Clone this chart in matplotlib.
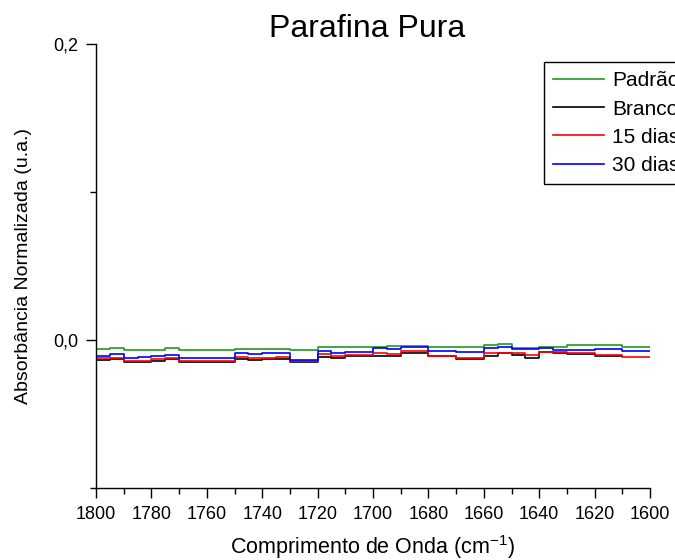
import numpy as np
import matplotlib
matplotlib.use("Agg")
import matplotlib.pyplot as plt
from matplotlib.ticker import MultipleLocator, FuncFormatter

plt.rcParams['font.family'] = ['Liberation Sans', 'DejaVu Sans']
plt.rcParams['mathtext.fontset'] = 'custom'
plt.rcParams['mathtext.rm'] = 'Liberation Sans'
plt.rcParams['mathtext.it'] = 'Liberation Sans:italic'
plt.rcParams['mathtext.default'] = 'regular'

# Wavenumber at the start of each 5 cm-1 step (cm-1)
wavenumber = np.arange(1800, 1600, -5)

padrao = [-0.0063, -0.0056, -0.0066, -0.0066, -0.0066, -0.0056, -0.0066, -0.0066,
          -0.0066, -0.0066, -0.0061, -0.0061, -0.0061, -0.0061, -0.0068, -0.0068,
          -0.0049, -0.0049, -0.0045, -0.0045, -0.0045, -0.0041, -0.0041, -0.0041,
          -0.0045, -0.0045, -0.0045, -0.0045, -0.0034, -0.0029, -0.0052, -0.0052,
          -0.0045, -0.0049, -0.0034, -0.0034, -0.0034, -0.0034, -0.0049, -0.0049]
branco = [-0.0133, -0.0128, -0.0151, -0.0151, -0.0142, -0.0128, -0.0151, -0.0151,
          -0.0151, -0.0151, -0.0128, -0.0133, -0.0128, -0.0126, -0.0151, -0.0151,
          -0.0113, -0.0124, -0.0106, -0.0106, -0.0106, -0.0106, -0.0090, -0.0090,
          -0.0110, -0.0110, -0.0128, -0.0128, -0.0106, -0.0090, -0.0101, -0.0120,
          -0.0083, -0.0090, -0.0097, -0.0097, -0.0106, -0.0106, np.nan, np.nan]
dias15 = [-0.0124, -0.0120, -0.0142, -0.0142, -0.0130, -0.0120, -0.0142, -0.0142,
          -0.0142, -0.0142, -0.0113, -0.0124, -0.0120, -0.0118, -0.0142, -0.0142,
          -0.0097, -0.0106, -0.0101, -0.0101, -0.0090, -0.0097, -0.0074, -0.0074,
          -0.0106, -0.0106, -0.0120, -0.0120, -0.0090, -0.0090, -0.0090, -0.0101,
          -0.0079, -0.0079, -0.0090, -0.0090, -0.0101, -0.0101, -0.0113, -0.0113]
dias30 = [-0.0106, -0.0097, -0.0120, -0.0113, -0.0108, -0.0101, -0.0120, -0.0120,
          -0.0120, -0.0120, -0.0090, -0.0095, -0.0090, -0.0088, -0.0135, -0.0135,
          -0.0074, -0.0090, -0.0079, -0.0079, -0.0056, -0.0061, -0.0049, -0.0049,
          -0.0074, -0.0074, -0.0079, -0.0079, -0.0056, -0.0045, -0.0061, -0.0061,
          -0.0052, -0.0068, -0.0068, -0.0068, -0.0061, -0.0061, -0.0074, -0.0074]

series = [
    ("Padrão", padrao, "#1f9a1f", 1600),
    ("Branco", branco, "#000000", 1610),
    ("15 dias", dias15, "#ff0000", 1600),
    ("30 dias", dias30, "#0000ff", 1600),
]

fig = plt.figure(figsize=(6.75, 5.6), dpi=100)
ax = fig.add_axes([96 / 675, 1 - 488 / 560, (650 - 96) / 675, (488 - 44) / 560])

for label, vals, color, end in series:
    vals = np.asarray(vals, dtype=float)
    ok = ~np.isnan(vals)
    x = np.append(wavenumber[ok], end)
    y = np.append(vals[ok], vals[ok][-1])
    ax.step(x, y, where='post', color=color, lw=1.2, label=label)

ax.set_xlim(1800, 1600)
ax.set_ylim(-0.1, 0.2)

for side in ("top", "right"):
    ax.spines[side].set_visible(False)
for side in ("left", "bottom"):
    ax.spines[side].set_linewidth(1.0)

ax.xaxis.set_major_locator(MultipleLocator(20))
ax.xaxis.set_minor_locator(MultipleLocator(10))
ax.yaxis.set_major_locator(MultipleLocator(0.2))
ax.yaxis.set_minor_locator(MultipleLocator(0.1))
ax.yaxis.set_major_formatter(FuncFormatter(lambda v, p: f"{v:.1f}".replace('.', ',')))
ax.tick_params(which='major', direction='out', length=7, width=1.0, labelsize=13, pad=6)
ax.tick_params(which='minor', direction='out', length=4, width=1.0)

ax.set_xlabel("Comprimento de Onda (cm$^{-1}$)", fontsize=15.5, labelpad=7)
ax.set_ylabel("Absorbância Normalizada (u.a.)", fontsize=14, labelpad=15)
ax.set_title("Parafina Pura", fontsize=23, pad=5, x=0.489)

leg = ax.legend(loc='upper left', bbox_to_anchor=(544 / 675, 1 - 62 / 560),
                bbox_transform=fig.transFigure, fontsize=15, fancybox=False,
                edgecolor='black', framealpha=1, handlelength=2.45,
                borderaxespad=0, labelspacing=0.44, handletextpad=0.38,
                borderpad=0.45)
leg.get_frame().set_linewidth(1.0)

fig.savefig("out.png", dpi=100)
